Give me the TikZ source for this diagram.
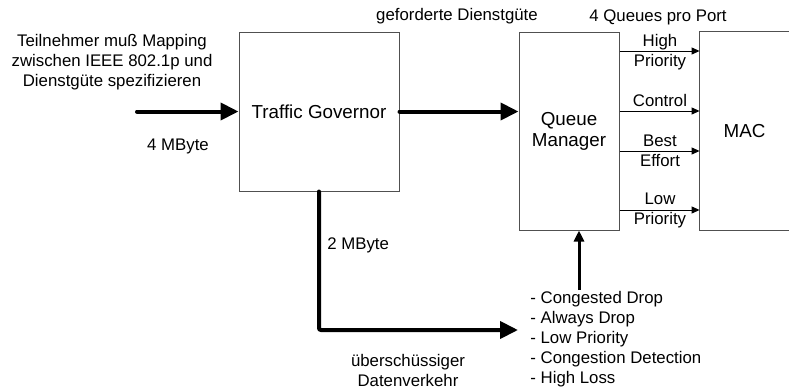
\documentclass[tikz,border=0pt]{standalone}
\usepackage{fontspec}
\setmainfont{Liberation Sans}
\usetikzlibrary{arrows.meta,positioning}
\definecolor{Frame}{HTML}{505050}

\begin{document}
\begin{tikzpicture}[
    x=0.5pt, y=-0.5pt,
    box/.style={
      draw=Frame, line width=0.5pt, fill=white, inner sep=0pt,
      align=center, font=\fontsize{9.4}{10.5}\selectfont
    },
    lbl/.style={inner sep=0pt, align=center, font=\fontsize{8.4}{10}\selectfont},
    fat/.style={-{Triangle[length=9pt,width=8.5pt]}, line width=2pt, line cap=round},
    mid/.style={-{Triangle[length=5.5pt,width=5pt]}, line width=1.5pt},
    qarr/.style={-{Triangle[length=4pt,width=3.5pt]}, line width=0.5pt}
  ]
    \useasboundingbox (0,0) rectangle (789,387);

    % boxes
    \node[box, minimum width=80pt, minimum height=79.5pt] (tg) at (319,111.5) {Traffic Governor};
    \node[box, minimum width=50pt, minimum height=99pt] (qm) at (569,131) {Queue\\Manager};
    \node[inner sep=0pt, minimum width=44.5pt, minimum height=99pt, font=\fontsize{9.4}{10.5}\selectfont] (mac) at (744.5,131) {MAC};
    \draw[Frame, line width=0.5pt] (mac.north east) -- (mac.north west) -- (mac.south west) -- (mac.south east);

    % texts
    \node[lbl] (spec) at (112,62) {Teilnehmer muß Mapping\\zwischen IEEE 802.1p und\\Dienstgüte spezifizieren};
    \node[lbl] (rate) at (178,146) {4 MByte};
    \node[lbl] (qos) at (457,16) {geforderte Dienstgüte};
    \node[lbl] (ports) at (658,17) {4 Queues pro Port};
    \node[lbl, anchor=west] (half) at (327,245) {2 MByte};
    \node[lbl] (excess) at (408,370) {überschüssiger\\Datenverkehr};
    \node[lbl, anchor=west, align=left] (modes) at (530,339) {- Congested Drop\\- Always Drop\\- Low Priority\\- Congestion Detection\\- High Loss};

    % queue labels
    \node[lbl] (qhigh) at (660,52) {High\\Priority};
    \node[lbl, anchor=south] (qctrl) at (660,107) {Control};
    \node[lbl] (qbest) at (660,151) {Best\\Effort};
    \node[lbl] (qlow) at (660,210) {Low\\Priority};

    % connectors
    \coordinate (in) at (137,111.5);
    \coordinate (drop) at (518,330);
    \coordinate (ctrl) at (579,290);

    \draw[fat] (in) -- (tg.west);
    \draw[fat] (tg.east) -- (qm.west |- tg.east);
    \draw[fat, rounded corners=1pt] (tg.south) |- (drop);
    \draw[mid] (ctrl) -- (ctrl |- qm.south);
    \foreach \q in {51,111,151,210}
      \draw[qarr] (qm.east |- 0,\q) -- (mac.west |- 0,\q);
  \end{tikzpicture}
\end{document}
